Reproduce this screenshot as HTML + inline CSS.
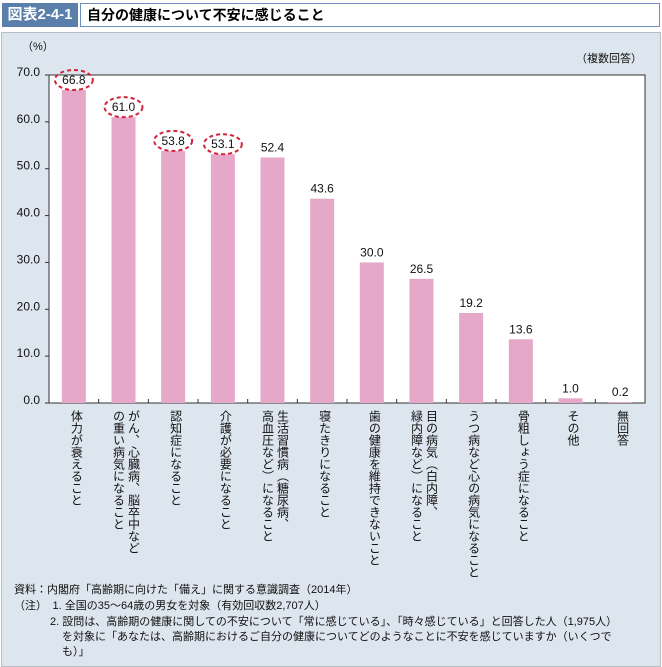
<!DOCTYPE html>
<html><head><meta charset="utf-8">
<style>
body{margin:0;width:662px;height:667px;background:#fff;font-family:"Liberation Sans","Noto Sans CJK JP",sans-serif;position:relative;overflow:hidden}
.abs{position:absolute}
#hdr{left:0;top:0;width:662px;height:29px}
#tag{left:2px;top:3px;width:76px;height:24px;background:#5a7fab;color:#fff;font-weight:bold;font-size:15px;line-height:24px;text-align:center}
#ttl{left:80px;top:3px;width:572px;height:22px;border:1px solid #6d8fbc;background:#fff;font-weight:bold;font-size:14px;line-height:22px;padding-left:6px;box-sizing:content-box}
#panel{left:1px;top:32px;width:658px;height:633px;background:#dde5ee;border:1px solid #b8bec6}
.xl{position:absolute;top:410px;writing-mode:vertical-rl;font-size:12px;line-height:15px;color:#111;white-space:nowrap}
.note{position:absolute;font-size:11px;color:#111;white-space:nowrap}
</style></head><body>
<div class="abs" id="hdr">
<div class="abs" id="tag">図表2-4-1</div>
<div class="abs" id="ttl">自分の健康について不安に感じること</div>
</div>
<div class="abs" id="panel"></div>
<svg class="abs" style="left:0;top:0" width="662" height="667" id="chart"></svg>
<div id="labels"></div>
<div class="note" style="left:14px;top:581px">資料：内閣府「高齢期に向けた「備え」に関する意識調査（2014年）</div>
<div class="note" style="left:14px;top:597px">（注）　1.  全国の35～64歳の男女を対象（有効回収数2,707人）</div>
<div class="note" style="left:50px;top:613px">2.  設問は、高齢期の健康に関しての不安について「常に感じている」、「時々感じている」と回答した人（1,975人）</div>
<div class="note" style="left:62px;top:628px">を対象に「あなたは、高齢期におけるご自分の健康についてどのようなことに不安を感じていますか（いくつで</div>
<div class="note" style="left:62px;top:643px">も）」</div>
<script>
const categories=[["体力が衰えること"],["がん、心臓病、脳卒中など","の重い病気になること"],["認知症になること"],["介護が必要になること"],["生活習慣病（糖尿病、","高血圧など）になること"],["寝たきりになること"],["歯の健康を維持できないこと"],["目の病気（白内障、","緑内障など）になること"],["うつ病など心の病気になること"],["骨粗しょう症になること"],["その他"],["無回答"]];
const values=[66.8,61.0,53.8,53.1,52.4,43.6,30.0,26.5,19.2,13.6,1.0,0.2];
const highlighted=[true,true,true,true,false,false,false,false,false,false,false,false];
const yTicks=[0,10,20,30,40,50,60,70];
const NS="http://www.w3.org/2000/svg";
const svg=document.getElementById('chart');
const L=49,R=645,T=75,B=403,yMax=70;
const bw=(R-L)/values.length;
const y=v=>B-(v/yMax)*(B-T);
const xc=i=>L+bw*(i+0.5);
function mk(t,a){const e=document.createElementNS(NS,t);for(const k in a)e.setAttribute(k,a[k]);svg.appendChild(e);return e;}
const plot=mk('rect',{x:L,y:T,width:R-L,height:B-T,fill:'#fff',stroke:'#333','stroke-width':1});


const yt=mk('text',{x:22,y:50,'font-size':11,fill:'#111'});yt.textContent='（%）';


const mt=mk('text',{x:642,y:62,'font-size':11,fill:'#111','text-anchor':'end'});mt.textContent='（複数回答）';


yTicks.forEach(t=>{
 const tx=mk('text',{x:40,y:y(t)+1,'font-size':12,fill:'#111','text-anchor':'end'});tx.textContent=t.toFixed(1);
 
 
 mk('line',{x1:L-4,x2:L,y1:y(t),y2:y(t),stroke:'#333'});
});
values.forEach((v,i)=>{
 if(i>0) mk('line',{x1:L+bw*i,x2:L+bw*i,y1:B,y2:B-4,stroke:'#333'});
 const r=mk('rect',{x:xc(i)-12,y:y(v),width:24,height:B-y(v),fill:'#e5a8c8'});
 
 
 const ty=y(v)-6;
 const t=mk('text',{x:xc(i),y:ty,'font-size':12,fill:'#111','text-anchor':'middle'});t.textContent=v.toFixed(1);
 
 
 if(highlighted[i]){
  const c=mk('ellipse',{cx:xc(i),cy:ty-4,rx:19,ry:10,fill:'none',stroke:'#d2233c','stroke-width':2,'stroke-dasharray':'4 3'});
  
  
 }
});
const lb=document.getElementById('labels');
categories.forEach((c,i)=>{
 const d=document.createElement('div');d.className='xl';
 
 
 d.innerHTML=c.join('<br>');
 lb.appendChild(d);
 const w=15*c.length;
 d.style.left=(xc(i)-w/2+2)+'px';
});
</script>
</body></html>
